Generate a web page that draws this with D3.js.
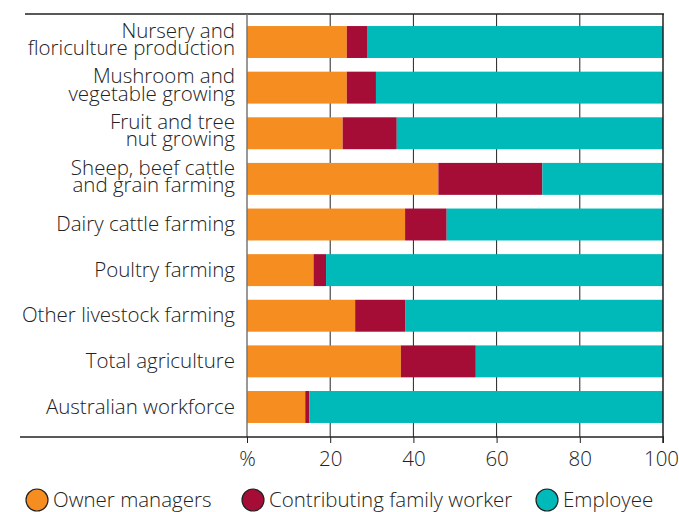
<!DOCTYPE html>
<html><head><meta charset="utf-8">
<script src="https://cdn.jsdelivr.net/npm/d3@7"></script>
<style>body{margin:0;background:#fff}svg{display:block}text{font-family:"Open Sans",sans-serif;font-weight:300;fill:#222}</style>
</head><body><svg id="c" width="679" height="512"></svg>
<script>
const categories = [
  ["Nursery and","floriculture production"],
  ["Mushroom and","vegetable growing"],
  ["Fruit and tree","nut growing"],
  ["Sheep, beef cattle","and grain farming"],
  ["Dairy cattle farming"],
  ["Poultry farming"],
  ["Other livestock farming"],
  ["Total agriculture"],
  ["Australian workforce"]
];
const ownerManagers = [24, 24, 23, 46, 38, 16, 26, 37, 14];
const familyWorker  = [5, 7, 13, 25, 10, 3, 12, 18, 1];
const employee      = [71, 69, 64, 29, 52, 81, 62, 45, 85];
const seriesNames = ["Owner managers","Contributing family worker","Employee"];
const colors = ["#F58D21","#A50D37","#00B9B9"];
const tickValues = [0,20,40,60,80,100];
const tickLabels = ["%","20","40","60","80","100"];

const FS = 20.5;
const svg = d3.select("#c");
const x = d3.scaleLinear().domain([0,100]).range([247,663]);
const y = d3.scaleBand().domain(d3.range(categories.length)).range([19.2,429.8]).paddingInner(0.3).paddingOuter(0.15);
const yTop = 14, yBottom = 437;

// gridlines
svg.append("g").selectAll("line").data([20,40,60,80]).join("line")
  .attr("x1",d=>x(d)).attr("x2",d=>x(d)).attr("y1",yTop).attr("y2",yBottom)
  .attr("stroke","#222").attr("stroke-width",1);

const rows = categories.map((c,i)=>({i, vals:[ownerManagers[i],familyWorker[i],employee[i]]}));
const stack = rows.map(r=>{let acc=0;return r.vals.map((v,k)=>{const s={i:r.i,k,x0:acc,x1:acc+v};acc+=v;return s;});}).flat();
svg.append("g").selectAll("rect").data(stack).join("rect")
  .attr("x",d=>x(d.x0)).attr("width",d=>x(d.x1)-x(d.x0))
  .attr("y",d=>y(d.i)).attr("height",y.bandwidth())
  .attr("fill",d=>colors[d.k]);

// frame lines
svg.append("line").attr("x1",25).attr("x2",664).attr("y1",yTop).attr("y2",yTop).attr("stroke","#222").attr("stroke-width",1.5);
svg.append("line").attr("x1",247).attr("x2",247).attr("y1",yTop).attr("y2",yBottom).attr("stroke","#777").attr("stroke-width",1.5);
svg.append("line").attr("x1",663).attr("x2",663).attr("y1",yTop).attr("y2",443).attr("stroke","#222").attr("stroke-width",1.5);

// x axis
const ax = svg.append("g").attr("transform",`translate(0,${yBottom})`)
  .call(d3.axisBottom(x).tickValues(tickValues).tickFormat((d,i)=>tickLabels[i]).tickSize(6).tickPadding(8));
ax.select(".domain").remove();
ax.append("line").attr("x1",20).attr("x2",664).attr("y1",0).attr("y2",0).attr("stroke","#222").attr("stroke-width",1.5);
ax.selectAll(".tick line").attr("stroke","#222");
ax.selectAll(".tick text").style("font-family","'Open Sans', sans-serif").style("font-weight",300).style("font-size",FS+"px").attr("fill","#222");
ax.selectAll(".tick text").filter(d=>d===100).attr("dx",-2);

// category labels
const lab = svg.append("g").selectAll("text").data(categories).join("text")
  .attr("text-anchor","end").attr("font-size",FS);
lab.each(function(c,i){
  const t=d3.select(this);
  const cy=y(i)+y.bandwidth()/2;
  const offs = c.length===1 ? [6.7] : [-4.3, 13];
  c.forEach((line,j)=>{
    t.append("tspan").attr("x",235).attr("y",cy+offs[j]).text(line);
  });
});

// legend
const legX=[37,253,547];
const lg=svg.append("g").selectAll("g").data(seriesNames).join("g")
  .attr("transform",(d,i)=>`translate(${legX[i]},500)`);
lg.append("circle").attr("r",11).attr("fill",(d,i)=>colors[i]).attr("stroke","#222").attr("stroke-width",1.2);
lg.append("text").attr("x",16).attr("y",7).attr("font-size",FS).text(d=>d);
</script></body></html>
